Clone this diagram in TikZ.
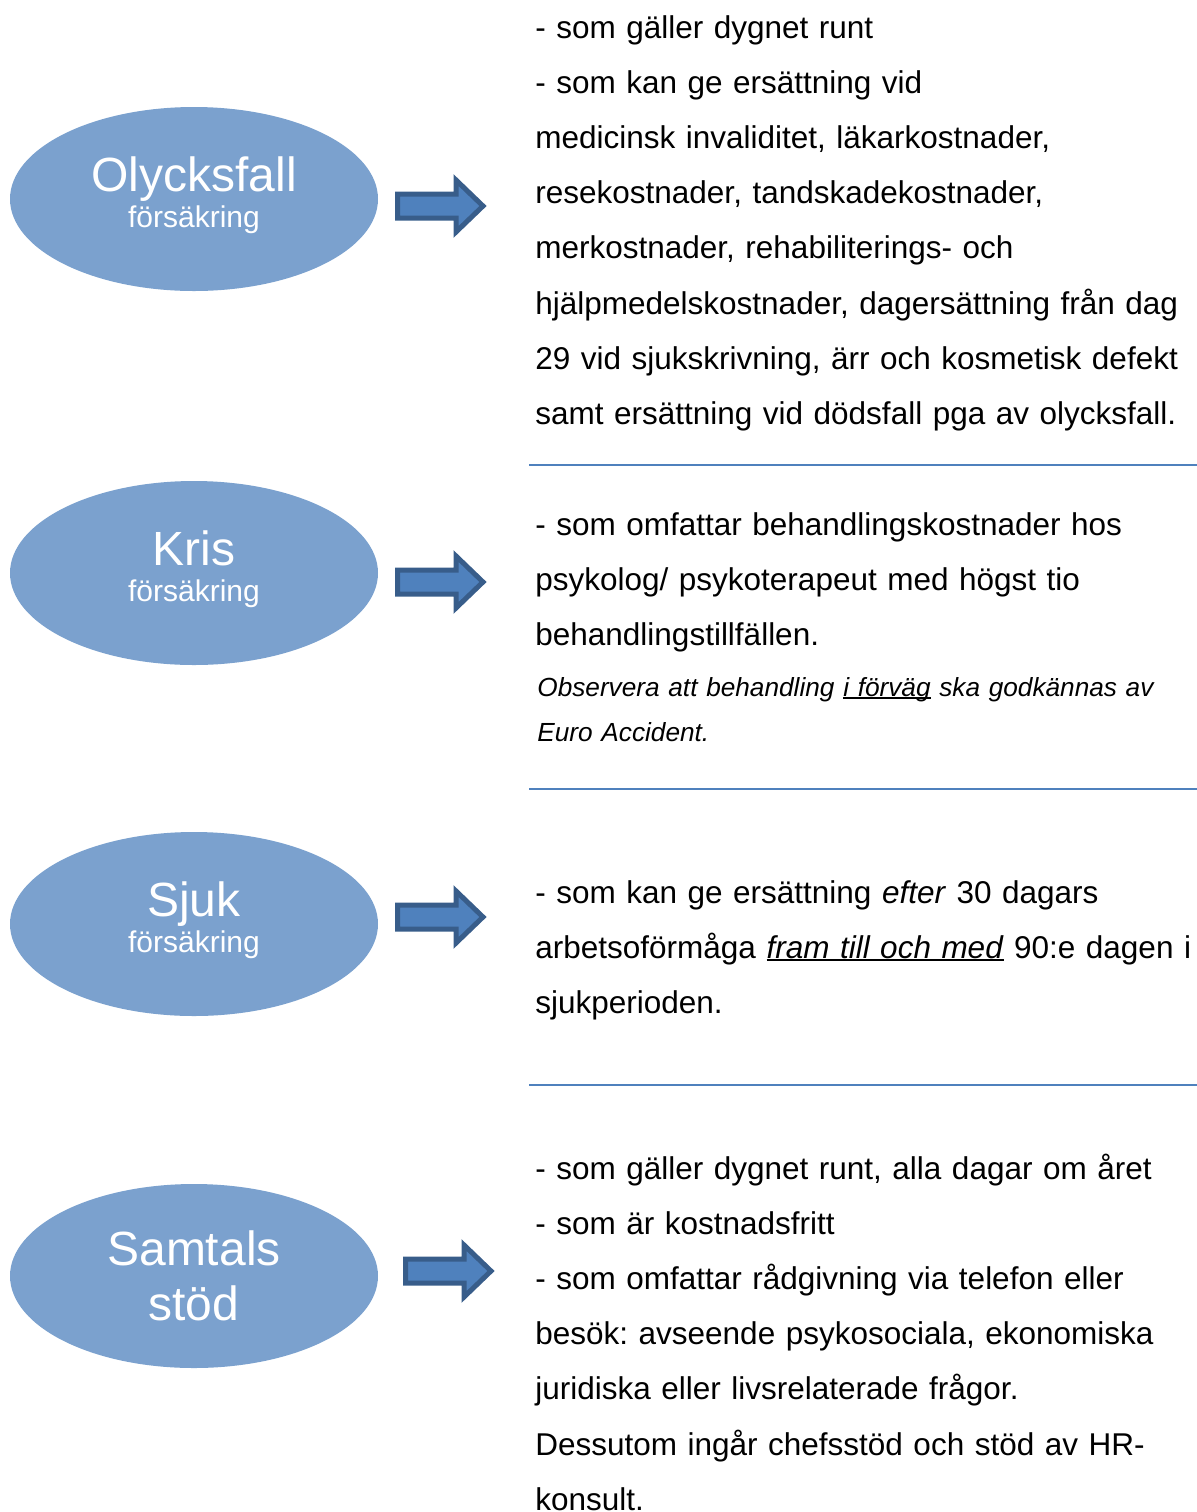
\documentclass[tikz,border=0pt]{standalone}
\usepackage{fontspec}
\setmainfont{Liberation Sans}
\usetikzlibrary{shapes.geometric}

\definecolor{bubbleblue}{RGB}{123,161,206}
\definecolor{arrowfill}{RGB}{79,129,189}
\definecolor{arrowedge}{RGB}{56,93,138}

\newsavebox\undertextbox
\newcommand\undertext[1]{\sbox\undertextbox{#1}%
	\rlap{\rule[-1.5pt]{\wd\undertextbox}{0.9pt}}\usebox\undertextbox}

\tikzset{
	bubble/.style={ellipse,fill=bubbleblue,text=white,inner sep=0pt,
		minimum width=184pt,minimum height=92pt,align=center,text depth=6.5pt,
		font=\fontsize{15}{18}\selectfont},
	info/.style={anchor=base west,inner sep=0pt,text width=335pt,align=left,
		font=\fontsize{15.75}{27.6}\selectfont\frenchspacing},
	note/.style={info,font=\fontsize{13.1}{22.5}\selectfont\itshape\frenchspacing},
	blockarrow/.style={fill=arrowfill,draw=arrowedge,line width=2.5pt,line join=miter},
	divider/.style={draw=arrowfill,line width=1pt}
}

\begin{document}
\begin{tikzpicture}[x=0.5pt,y=-0.5pt]
	\useasboundingbox (0,0) rectangle (1197,1512);

	% the four covers
	\node[bubble](olycksfall) at (194,199) {{\fontsize{24}{18}\selectfont Olycksfall}\\försäkring};
	\node[bubble](kris) at (194,573) {{\fontsize{24}{18}\selectfont Kris}\\försäkring};
	\node[bubble](sjuk) at (194,924) {{\fontsize{24}{18}\selectfont Sjuk}\\försäkring};
	\node[bubble,text depth=0pt,font=\fontsize{24}{27.5}\selectfont](samtal) at (194,1276) {Samtals\\stöd};

	\foreach \x/\y in {395/206,395/582,395/917,403/1271}
		\draw[blockarrow] (\x,\y) ++(2.5,-12) -- ++(58.5,0) -- ++(0,-14)
			-- ++(27,26) -- ++(-27,26) -- ++(0,-14) -- ++(-58.5,0) -- cycle;

	% what each cover gives
	\node[info](olycksfall-text) at (535,38) {- som gäller dygnet runt\\
		- som kan ge ersättning vid\\
		medicinsk invaliditet, läkarkostnader,\\
		resekostnader, tandskadekostnader,\\
		merkostnader, rehabiliterings- och\\
		hjälpmedelskostnader, dagersättning från dag\\
		29 vid sjukskrivning, ärr och kosmetisk defekt\\
		samt ersättning vid dödsfall pga av olycksfall.};
	\draw[divider] (529,465) -- (1197,465);

	\node[info](kris-text) at (535,535) {- som omfattar behandlingskostnader hos\\
		psykolog/ psykoterapeut med högst tio\\
		behandlingstillfällen.};
	\node[note](kris-note) at (537,696) {Observera att behandling \undertext{i förväg} ska godkännas av\\
		Euro Accident.};
	\draw[divider] (529,789) -- (1197,789);

	\node[info](sjuk-text) at (535,903) {- som kan ge ersättning \textit{efter} 30 dagars\\
		arbetsoförmåga \undertext{\textit{fram till och med}} 90:e dagen i\\
		sjukperioden.};
	\draw[divider] (529,1085) -- (1197,1085);

	\node[info](samtal-text) at (535,1179) {- som gäller dygnet runt, alla dagar om året\\
		- som är kostnadsfritt\\
		- som omfattar rådgivning via telefon eller\\
		besök: avseende psykosociala, ekonomiska\\
		juridiska eller livsrelaterade frågor.\\
		Dessutom ingår chefsstöd och stöd av HR-\\
		konsult.};
\end{tikzpicture}
\end{document}
